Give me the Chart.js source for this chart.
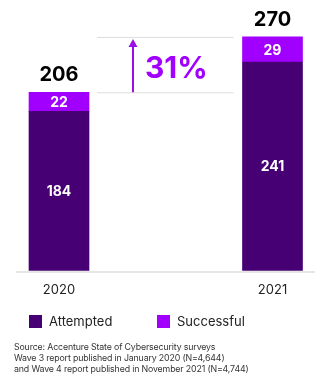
<!DOCTYPE html>
<html>
<head>
<meta charset="utf-8">
<script src="https://cdn.jsdelivr.net/npm/chart.js@4.4.1/dist/chart.umd.min.js"></script>
<style>
  html, body { margin: 0; padding: 0; background: #fff; width: 328px; height: 390px; overflow: hidden; font-family: Inter, "Noto Sans", sans-serif; }
  #wrap { position: relative; width: 328px; height: 390px; }
  canvas { position: absolute; left: 0; top: 0; }
  .legend { position: absolute; top: 313px; left: 0; width: 328px; height: 16px; font-size: 13px; color: #222; }
  .item { position: absolute; top: 0; display: flex; align-items: center; height: 16px; }
  .sw { width: 13px; height: 13px; margin-right: 7px; }
  .src { position: absolute; left: 14px; top: 341px; font-size: 8.8px; letter-spacing: -0.15px; line-height: 11px; color: #333; white-space: nowrap; }
</style>
</head>
<body>
<div id="wrap">
  <canvas id="c" width="328" height="314"></canvas>
  <div class="legend" id="legend"></div>
  <div class="src" id="src"></div>
</div>
<script>
const categories = ['2020', '2021'];
const attempted = [184, 241];
const successful = [22, 29];
const seriesNames = ['Attempted', 'Successful'];
const seriesColors = ['#460073', '#A100FF'];
const growthLabel = '31%';
const sourceLines = [
  'Source: Accenture State of Cybersecurity surveys',
  'Wave 3 report published in January 2020 (N=4,644)',
  'and Wave 4 report published in November 2021 (N=4,744)'
];

const totals = categories.map((_, i) => attempted[i] + successful[i]);

const overlay = {
  id: 'overlay',
  beforeDatasetsDraw(chart) {
    const ctx = chart.ctx;
    const y = chart.scales.y.getPixelForValue(0);
    ctx.save();
    ctx.strokeStyle = '#e6e6e6';
    ctx.lineWidth = 2;
    ctx.beginPath();
    ctx.moveTo(16, y + 1.5);
    ctx.lineTo(315, y + 1.5);
    ctx.stroke();
    ctx.restore();
  },
  afterDatasetsDraw(chart) {
    const ctx = chart.ctx;
    const m0 = chart.getDatasetMeta(0);
    const m1 = chart.getDatasetMeta(1);
    ctx.save();
    ctx.textAlign = 'center';
    ctx.textBaseline = 'middle';
    ctx.fillStyle = '#ffffff';
    ctx.font = 'bold 14px Inter, "Noto Sans", sans-serif';
    [m0, m1].forEach((meta, d) => {
      meta.data.forEach((el, i) => {
        const v = chart.data.datasets[d].data[i];
        ctx.fillText(String(v), el.x, (el.y + el.base) / 2 + 1);
      });
    });
    ctx.fillStyle = '#000000';
    ctx.font = 'bold 20px Inter, "Noto Sans", sans-serif';
    m1.data.forEach((el, i) => {
      ctx.fillText(String(totals[i]), el.x, el.y - 17);
    });
    const b0 = m1.data[0], b1 = m1.data[1];
    const yLow = b0.y, yHigh = b1.y;
    const xL = b0.x + b0.width / 2 + 8;
    const xR = b1.x - b1.width / 2 - 9;
    ctx.strokeStyle = '#dddddd';
    ctx.lineWidth = 1;
    ctx.beginPath();
    ctx.moveTo(xL, yHigh + 0.5); ctx.lineTo(xR, yHigh + 0.5);
    ctx.moveTo(xL, yLow + 0.5); ctx.lineTo(xR, yLow + 0.5);
    ctx.stroke();
    const ax = xL + 36;
    ctx.strokeStyle = '#9b10e8';
    ctx.fillStyle = '#9b10e8';
    ctx.lineWidth = 2;
    ctx.beginPath();
    ctx.moveTo(ax, yLow);
    ctx.lineTo(ax, yHigh + 8);
    ctx.stroke();
    ctx.beginPath();
    ctx.moveTo(ax, yHigh + 2);
    ctx.lineTo(ax - 4.5, yHigh + 10);
    ctx.lineTo(ax + 4.5, yHigh + 10);
    ctx.closePath();
    ctx.fill();
    ctx.fillStyle = '#A100FF';
    ctx.font = 'bold 30px Inter, "Noto Sans", sans-serif';
    ctx.textAlign = 'left';
    ctx.fillText(growthLabel, ax + 12, (yLow + yHigh) / 2 + 4);
    ctx.restore();
  }
};

new Chart(document.getElementById('c'), {
  type: 'bar',
  data: {
    labels: categories,
    datasets: [
      { label: seriesNames[0], data: attempted, backgroundColor: seriesColors[0], barThickness: 60, clip: false },
      { label: seriesNames[1], data: successful, backgroundColor: seriesColors[1], barThickness: 60, clip: false }
    ]
  },
  options: {
    responsive: false,
    animation: false,
    layout: { padding: { left: 59, right: 55.5, top: 11, bottom: 4 } },
    plugins: { legend: { display: false }, tooltip: { enabled: false } },
    scales: {
      x: {
        stacked: true,
        offset: false,
        grid: { display: false, drawTicks: false },
        border: { display: false },
        ticks: { padding: 12, color: '#222', font: { family: 'Inter, "Noto Sans", sans-serif', size: 13 } }
      },
      y: {
        stacked: true,
        display: false,
        min: 0,
        max: 300
      }
    }
  },
  plugins: [overlay]
});

const lg = document.getElementById('legend');
const lx = [29, 157];
seriesNames.forEach((n, i) => {
  const d = document.createElement('div');
  d.className = 'item';
  d.style.left = lx[i] + 'px';
  d.innerHTML = '<span class="sw" style="background:' + seriesColors[i] + '"></span><span>' + n + '</span>';
  lg.appendChild(d);
});
document.getElementById('src').innerHTML = sourceLines.map(s => '<div>' + s + '</div>').join('');
</script>
</body>
</html>
